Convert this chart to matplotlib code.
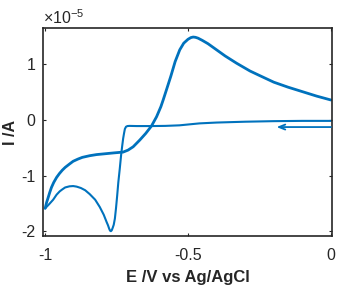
import matplotlib
matplotlib.use("Agg")
import matplotlib.pyplot as plt

plt.rcParams['font.family'] = ['Liberation Sans', 'DejaVu Sans']
plt.rcParams['mathtext.fontset'] = 'custom'
plt.rcParams['mathtext.rm'] = 'Liberation Sans'

# forward (cathodic) scan, 0 -> -1 V, current in units of 1e-5 A
E_fwd = [0.0, -0.1, -0.2, -0.3, -0.4, -0.46, -0.53, -0.58, -0.63, -0.68, -0.705, -0.712,
         -0.717, -0.721, -0.724, -0.727, -0.730, -0.734, -0.739, -0.744, -0.748, -0.752,
         -0.756, -0.760, -0.764, -0.767, -0.770, -0.773, -0.776, -0.780, -0.785, -0.795,
         -0.809, -0.825, -0.844, -0.86, -0.875, -0.89, -0.902, -0.915, -0.93, -0.94,
         -0.949, -0.96, -0.972, -0.986, -1.0]
I_fwd = [-0.015, -0.015, -0.02, -0.03, -0.045, -0.06, -0.095, -0.105, -0.108, -0.108, -0.105, -0.108,
         -0.12, -0.16, -0.24, -0.33, -0.45, -0.62, -0.88, -1.12, -1.36, -1.58,
         -1.77, -1.88, -1.94, -1.98, -1.995, -1.985, -1.95, -1.89, -1.83, -1.70,
         -1.56, -1.43, -1.33, -1.26, -1.22, -1.195, -1.185, -1.19, -1.21, -1.245,
         -1.28, -1.34, -1.43, -1.51, -1.585]

# reverse (anodic) scan, -1 -> 0 V
E_rev = [-1.0, -0.995, -0.99, -0.984, -0.978, -0.97, -0.96, -0.95, -0.94, -0.93, -0.915,
         -0.902, -0.885, -0.87, -0.844, -0.82, -0.80, -0.76, -0.727, -0.71, -0.692,
         -0.669, -0.648, -0.628, -0.61, -0.595, -0.587, -0.575, -0.56, -0.545, -0.529,
         -0.515, -0.50, -0.49, -0.482, -0.474, -0.465, -0.45, -0.43, -0.40, -0.37,
         -0.33, -0.283, -0.25, -0.20, -0.15, -0.10, -0.05, 0.0]
I_rev = [-1.585, -1.48, -1.40, -1.30, -1.21, -1.12, -1.03, -0.96, -0.90, -0.85, -0.79,
         -0.74, -0.70, -0.67, -0.64, -0.62, -0.61, -0.59, -0.575, -0.54, -0.48,
         -0.36, -0.24, -0.108, 0.06, 0.24, 0.36, 0.55, 0.79, 1.05, 1.26,
         1.38, 1.45, 1.48, 1.49, 1.485, 1.47, 1.43, 1.37, 1.26, 1.15,
         1.02, 0.88, 0.80, 0.68, 0.59, 0.51, 0.43, 0.36]

arrow_E = [0.0, -0.19]
arrow_I = -0.126

xticks = [-1, -0.5, 0]
xticklabels = ['-1', '-0.5', '0']
yticks = [-2, -1, 0, 1]
yticklabels = ['-2', '-1', '0', '1']

color = '#0072BD'
dark = '#262626'
fs = 11.5

fig = plt.figure(figsize=(3.43, 2.87), dpi=100)
ax = fig.add_axes([0.125, 0.178, 0.843, 0.724])

ax.plot(E_fwd, I_fwd, color=color, lw=1.5, solid_joinstyle='round', solid_capstyle='round')
ax.plot(E_rev, I_rev, color=color, lw=2.0, solid_joinstyle='round', solid_capstyle='round')
ax.annotate('', xy=(arrow_E[1], arrow_I), xytext=(arrow_E[0], arrow_I),
            arrowprops=dict(arrowstyle='->,head_length=0.45,head_width=0.18',
                            color=color, lw=1.3, shrinkA=0, shrinkB=0))

ax.set_xlim(-1.008, 0.004)
ax.set_ylim(-2.08, 1.65)
ax.set_xticks(xticks)
ax.set_xticklabels(xticklabels)
ax.set_yticks(yticks)
ax.set_yticklabels(yticklabels)

for s in ax.spines.values():
    s.set_color(dark)
    s.set_linewidth(1.2)
ax.tick_params(direction='in', length=2.5, width=0.8, colors=dark, labelsize=fs,
               top=True, right=True)
ax.tick_params(axis='x', pad=9)
ax.tick_params(axis='y', pad=5.5)
for lab in ax.get_xticklabels() + ax.get_yticklabels():
    lab.set_color(dark)

ax.set_xlabel('E /V vs Ag/AgCl', fontsize=12, fontweight='bold', color=dark, labelpad=5)
ax.set_ylabel('I /A', fontsize=11.5, fontweight='bold', color=dark)
ax.yaxis.set_label_coords(-0.085, 0.5)
ax.text(0.0, 1.005, r'$\mathregular{\times10^{-5}}$', transform=ax.transAxes,
        fontsize=fs, color=dark, ha='left', va='bottom')

fig.savefig('out.png', dpi=100)
